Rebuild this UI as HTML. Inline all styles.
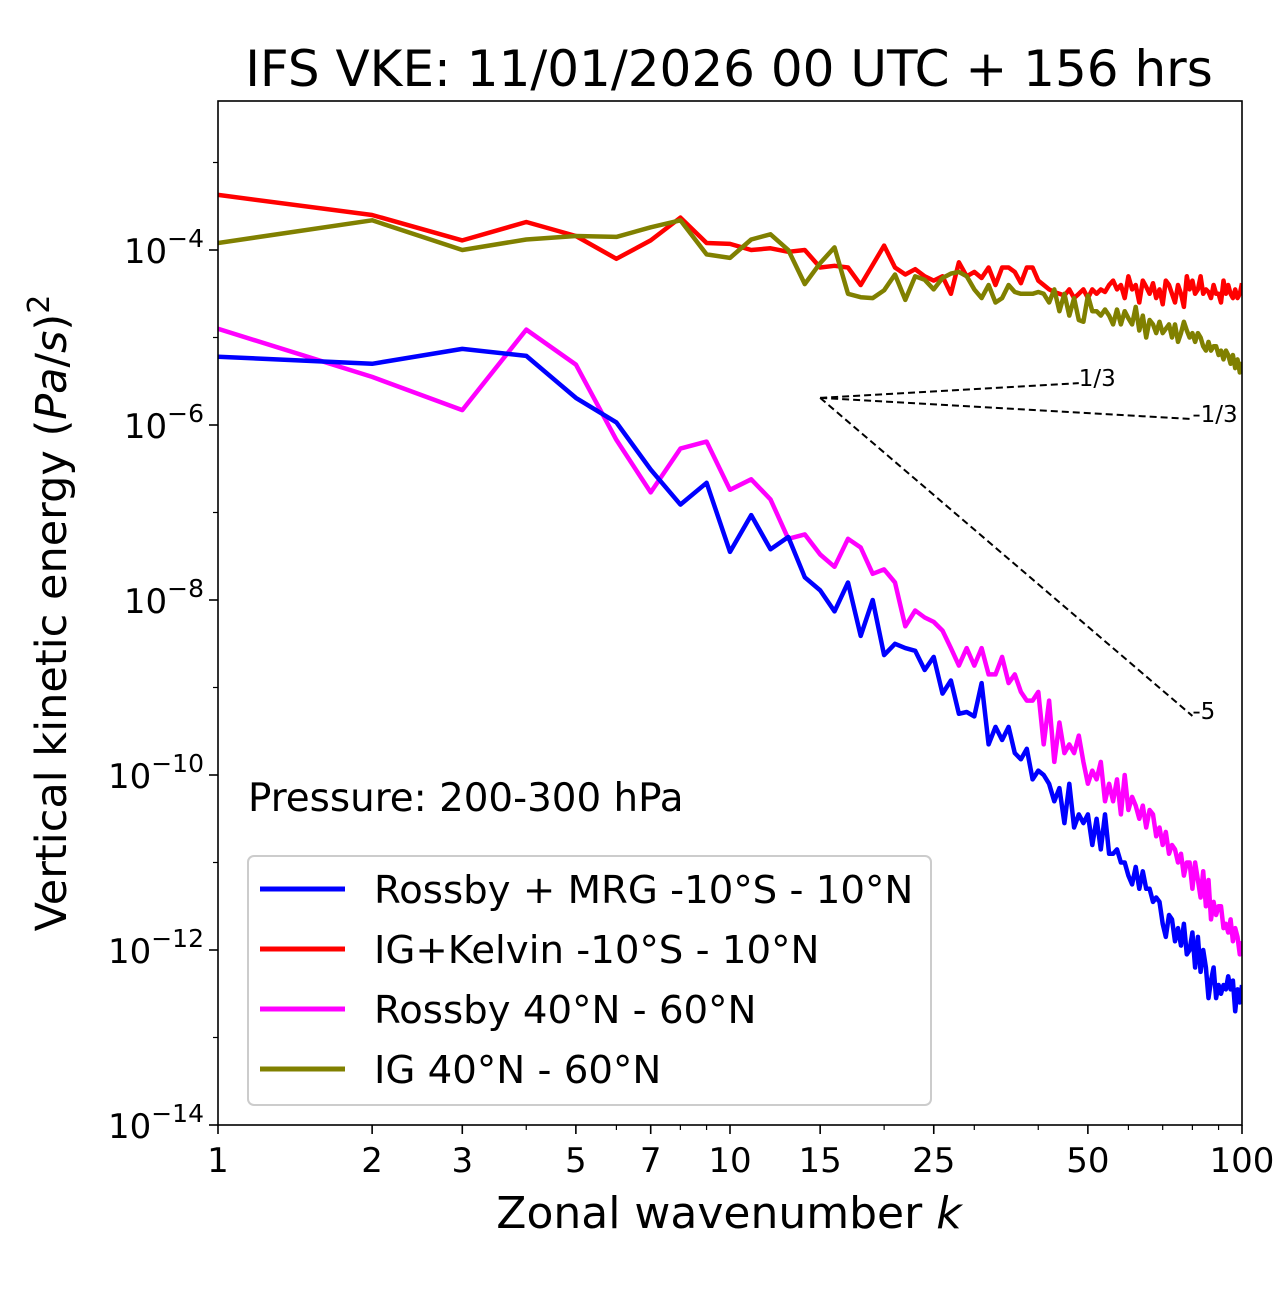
<!DOCTYPE html>
<html><head><meta charset="utf-8"><style>
body{margin:0;background:#fff}
svg text{font-family:"DejaVu Sans","Liberation Sans",sans-serif}
</style></head><body>
<svg id="chart" width="1280" height="1288" xmlns="http://www.w3.org/2000/svg">
<text x="729" y="86" font-size="50" text-anchor="middle">IFS VKE: 11/01/2026 00 UTC + 156 hrs</text>
<g id="marks"></g>
<rect x="218" y="101" width="1024" height="1024" fill="none" stroke="#000" stroke-width="1.6"/>
<g id="axes"></g>
<text x="729" y="1228" font-size="44" text-anchor="middle">Zonal wavenumber <tspan font-style="italic">k</tspan></text>
<text transform="translate(66,613) rotate(-90)" font-size="43" text-anchor="middle">Vertical kinetic energy (<tspan font-style="italic">Pa</tspan>/<tspan font-style="italic">s</tspan>)<tspan dy="-17" font-size="30">2</tspan></text>
<text x="248" y="811" font-size="38.8">Pressure: 200-300 hPa</text>
<g>
<rect x="248" y="856" width="683" height="249" rx="6" fill="#fff" fill-opacity="0.8" stroke="#ccc" stroke-width="2"/>
<line x1="260" y1="889" x2="345" y2="889" stroke="#0000ff" stroke-width="5"/>
<text x="374" y="903" font-size="38.7">Rossby + MRG -10°S - 10°N</text>
<line x1="260" y1="949" x2="345" y2="949" stroke="#ff0000" stroke-width="5"/>
<text x="374" y="963" font-size="38.7">IG+Kelvin -10°S - 10°N</text>
<line x1="260" y1="1009" x2="345" y2="1009" stroke="#ff00ff" stroke-width="5"/>
<text x="374" y="1023" font-size="38.7">Rossby 40°N - 60°N</text>
<line x1="260" y1="1069" x2="345" y2="1069" stroke="#808000" stroke-width="5"/>
<text x="374" y="1083" font-size="38.7">IG 40°N - 60°N</text>
</g>
</svg>
<script>
const xTicks=[1,2,3,5,7,10,15,25,50,100];
const xMinor=[4,6,8,9,20,30,40,60,70,80,90];
const yTickExps=[-14,-12,-10,-8,-6,-4];
const yMinorExps=[-13,-11,-9,-7,-5,-3];
const blueLog=[-5.22,-5.30,-5.13,-5.21,-5.69,-5.97,-6.51,-6.91,-6.66,-7.45,-7.03,-7.42,-7.28,-7.74,-7.89,-8.13,-7.80,-8.41,-8.00,-8.63,
-8.50,-8.55,-8.58,-8.80,-8.65,-9.07,-8.92,-9.30,-9.28,-9.33,-8.95,-9.65,-9.45,-9.60,-9.45,-9.75,-9.82,-9.70,-10.05,-9.95,
-10.0,-10.1,-10.3,-10.15,-10.55,-10.10,-10.6,-10.45,-10.55,-10.45,-10.8,-10.5,-10.85,-10.45,-10.9,-10.9,-10.85,-11.0,-11.0,-11.15,
-11.25,-11.05,-11.3,-11.1,-11.3,-11.3,-11.45,-11.4,-11.45,-11.7,-11.85,-11.6,-11.65,-11.9,-11.75,-11.95,-11.7,-12.05,-12.0,-11.8,
-12.2,-11.85,-12.25,-12.0,-12.2,-12.55,-12.35,-12.2,-12.55,-12.4,-12.5,-12.4,-12.45,-12.3,-12.45,-12.35,-12.7,-12.45,-12.6,-12.4];
const magentaLog=[-4.90,-5.45,-5.83,-4.91,-5.31,-6.17,-6.77,-6.27,-6.19,-6.74,-6.62,-6.85,-7.30,-7.25,-7.48,-7.62,-7.30,-7.40,-7.70,-7.65,
-7.80,-8.30,-8.12,-8.20,-8.25,-8.35,-8.55,-8.75,-8.55,-8.75,-8.55,-8.85,-8.85,-8.65,-8.95,-8.85,-9.05,-9.15,-9.15,-9.05,
-9.65,-9.15,-9.85,-9.40,-9.75,-9.65,-9.75,-9.55,-9.85,-10.10,-9.95,-10.05,-9.85,-10.30,-10.10,-10.30,-10.05,-10.45,-10.0,-10.4,
-10.25,-10.35,-10.5,-10.35,-10.6,-10.4,-10.45,-10.7,-10.6,-10.8,-10.65,-10.9,-10.8,-10.85,-11.0,-10.9,-11.15,-11.0,-11.0,-11.3,
-11.0,-11.2,-11.4,-11.1,-11.5,-11.2,-11.65,-11.45,-11.6,-11.5,-11.5,-11.75,-11.7,-11.8,-11.65,-11.9,-11.75,-11.85,-12.05,-11.9];
const redLog=[-3.37,-3.60,-3.89,-3.68,-3.84,-4.10,-3.89,-3.63,-3.92,-3.93,-4.0,-3.98,-4.02,-4.0,-4.2,-4.18,-4.2,-4.4,-4.17,-3.95,
-4.2,-4.28,-4.22,-4.3,-4.35,-4.3,-4.5,-4.14,-4.3,-4.25,-4.32,-4.2,-4.4,-4.2,-4.2,-4.25,-4.38,-4.2,-4.2,-4.35,
-4.4,-4.45,-4.48,-4.5,-4.52,-4.45,-4.55,-4.5,-4.45,-4.55,-4.45,-4.5,-4.45,-4.48,-4.4,-4.35,-4.45,-4.4,-4.55,-4.3,
-4.45,-4.4,-4.6,-4.35,-4.42,-4.5,-4.38,-4.55,-4.45,-4.62,-4.35,-4.4,-4.5,-4.6,-4.4,-4.5,-4.65,-4.3,-4.45,-4.35,
-4.5,-4.45,-4.3,-4.5,-4.45,-4.48,-4.55,-4.4,-4.5,-4.5,-4.6,-4.35,-4.5,-4.4,-4.5,-4.55,-4.45,-4.55,-4.5,-4.38];
const oliveLog=[-3.92,-3.66,-4.0,-3.88,-3.84,-3.85,-3.74,-3.66,-4.05,-4.09,-3.88,-3.82,-4.0,-4.39,-4.15,-3.97,-4.5,-4.54,-4.55,-4.46,
-4.28,-4.57,-4.3,-4.34,-4.45,-4.32,-4.27,-4.25,-4.3,-4.45,-4.55,-4.4,-4.6,-4.55,-4.4,-4.48,-4.5,-4.5,-4.5,-4.48,
-4.5,-4.6,-4.45,-4.7,-4.5,-4.75,-4.55,-4.8,-4.82,-4.52,-4.7,-4.7,-4.75,-4.68,-4.75,-4.85,-4.68,-4.85,-4.7,-4.78,
-4.85,-4.65,-4.92,-4.75,-5.0,-4.8,-4.85,-4.95,-4.82,-4.95,-4.9,-4.85,-5.0,-4.85,-5.05,-4.95,-4.82,-4.92,-5.0,-4.95,
-5.05,-4.95,-5.0,-5.1,-5.15,-5.05,-5.15,-5.1,-5.1,-5.2,-5.15,-5.25,-5.15,-5.2,-5.3,-5.2,-5.35,-5.25,-5.4,-5.28];
const refSlopes=[1/3,-1/3,-5];
const refLabels=["1/3","-1/3","-5"];
const refEndK=[48,80,80];
const refStartK=15, refStartLog=-5.69;

const NS="http://www.w3.org/2000/svg";
const X0=218,X1=1242,Y0=101,Y1=1125;
const yMin=-14, yMax=-14+1024/87.5;
function sx(k){return X0+Math.log10(k)/2*(X1-X0);}
function sy(l){return Y1-(l-yMin)/(yMax-yMin)*(Y1-Y0);}
function mk(tag,attrs,parent){const e=document.createElementNS(NS,tag);for(const a in attrs)e.setAttribute(a,attrs[a]);parent.appendChild(e);return e;}
const marks=document.getElementById('marks'), axes=document.getElementById('axes');
const cp=mk('clipPath',{id:'clip'},marks);mk('rect',{x:X0,y:Y0,width:X1-X0,height:Y1-Y0},cp);
function series(arr,color,name){
  const d=arr.map((v,i)=>(i?'L':'M')+sx(i+1).toFixed(1)+','+sy(v).toFixed(1)).join('');
  const p=mk('path',{d:d,fill:'none',stroke:color,'stroke-width':4.5,'stroke-linejoin':'round','clip-path':'url(#clip)'},marks);
  
  
}
series(redLog,'#ff0000','series-ig-kelvin');
series(oliveLog,'#808000','series-ig-midlat');
series(magentaLog,'#ff00ff','series-rossby-midlat');
series(blueLog,'#0000ff','series-rossby-mrg');
refSlopes.forEach((s,i)=>{
  const endLog=refStartLog+s*Math.log10(refEndK[i]/refStartK);
  const l=mk('line',{x1:sx(refStartK),y1:sy(refStartLog),x2:sx(refEndK[i]),y2:sy(endLog),stroke:'#000','stroke-width':2,'stroke-dasharray':'7,4'},marks);
  
  
  const t=mk('text',{x:sx(refEndK[i]),y:sy(endLog)+3,'font-size':23},marks);
  t.textContent=refLabels[i];
  
  
});
xTicks.forEach(k=>{
  const x=sx(k);
  mk('line',{x1:x,y1:Y1,x2:x,y2:Y1+9,stroke:'#000','stroke-width':1.6},axes);
  const t=mk('text',{x:x,y:Y1+47,'font-size':34,'text-anchor':'middle'},axes);
  t.textContent=k;
  
  
});
xMinor.forEach(k=>{const x=sx(k);mk('line',{x1:x,y1:Y1,x2:x,y2:Y1+5,stroke:'#000','stroke-width':1.2},axes);});
yTickExps.forEach(e=>{
  const y=sy(e);
  mk('line',{x1:X0-9,y1:y,x2:X0,y2:y,stroke:'#000','stroke-width':1.6},axes);
  const t=mk('text',{x:X0-14,y:y+13,'font-size':34,'text-anchor':'end'},axes);
  
  
  t.appendChild(document.createTextNode('10'));
  const ts=mk('tspan',{dy:-16,'font-size':25},t);ts.textContent='\u2212'+Math.abs(e);
});
yMinorExps.forEach(e=>{const y=sy(e);if(y>Y0)mk('line',{x1:X0-5,y1:y,x2:X0,y2:y,stroke:'#000','stroke-width':1.2},axes);});
</script>
</body></html>
